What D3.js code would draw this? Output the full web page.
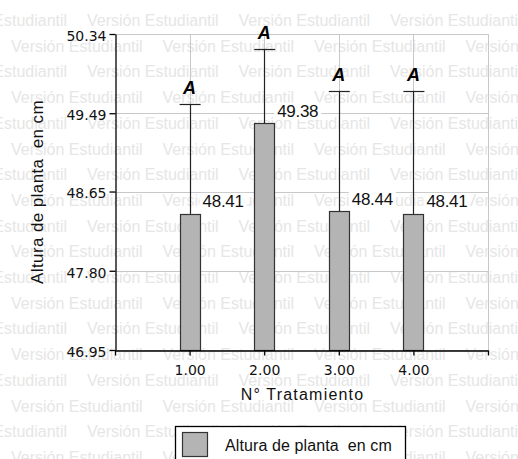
<!DOCTYPE html>
<html lang="es">

<head>
  <meta charset="UTF-8">
  <title>Altura de planta</title>
  <script src="https://cdn.jsdelivr.net/npm/d3@7"></script>
  <style>
    body { margin: 0; background: #fff; }
    text { white-space: pre; }
  </style>
</head>

<body>
  <svg width="518" height="459"></svg>
  <script>
    // datos
    let tratamientos = [1, 2, 3, 4];
    let alturas = [48.41, 49.38, 48.44, 48.41];
    let limSup = [49.59, 50.18, 49.73, 49.73];
    let letras = ['A', 'A', 'A', 'A'];
    let yTicks = [46.95, 47.80, 48.65, 49.49, 50.34];
    let xTicks = [1, 2, 3, 4];

    let dataset = tratamientos.map((t, i) => ({ t: t, v: alturas[i], sup: limSup[i], letra: letras[i] }));

    let width = 518, height = 459;
    let pLeft = 115, pRight = 488, pTop = 34, pBottom = 350;
    let gris = '#b4b4b4';

    let svg = d3.select('svg');

    // marca de agua
    let wm = svg.append('g')
      .attr('font-family', 'Liberation Sans, Arial, sans-serif')
      .attr('font-size', 16)
      .attr('fill', '#e6e6e6');
    let paso = 151.5;
    for (let r = 0; r < 19; r++) {
      let y = 0.3 + r * 25.7;
      let x0 = (r % 2 === 0) ? 11 : 87;
      for (let x = x0 - paso; x < width; x += paso) {
        wm.append('text').attr('x', x).attr('y', y).text('Versión Estudiantil');
      }
    }

    let xScale = d3.scaleLinear().domain([0, 5]).range([pLeft, pRight]);
    let yScale = d3.scaleLinear().domain([46.95, 50.34]).range([pBottom, pTop]);

    // rejilla
    let grid = svg.append('g').attr('stroke', '#c8c8c8').attr('stroke-width', 1);
    grid.selectAll('.h').data(yTicks).enter().append('line')
      .attr('x1', pLeft).attr('x2', pRight)
      .attr('y1', d => Math.round(yScale(d)) + 0.5).attr('y2', d => Math.round(yScale(d)) + 0.5);
    grid.selectAll('.v').data(xTicks).enter().append('line')
      .attr('y1', pTop).attr('y2', pBottom)
      .attr('x1', d => Math.round(xScale(d)) + 0.5).attr('x2', d => Math.round(xScale(d)) + 0.5);
    grid.append('line')
      .attr('x1', pRight + 0.5).attr('x2', pRight + 0.5).attr('y1', pTop).attr('y2', pBottom);

    // barras
    let barW = 20;
    svg.selectAll('rect.bar')
      .data(dataset)
      .enter()
      .append('rect')
      .attr('class', 'bar')
      .attr('x', d => Math.round(xScale(d.t) - barW / 2) + 0.5)
      .attr('y', d => Math.round(yScale(d.v)) + 0.5)
      .attr('width', barW)
      .attr('height', d => Math.round(pBottom - yScale(d.v)))
      .attr('fill', gris)
      .attr('stroke', '#333')
      .attr('stroke-width', 1.2);

    // barras de error (solo hacia arriba)
    let err = svg.append('g').attr('stroke', '#222').attr('stroke-width', 1.2);
    err.selectAll('.ev').data(dataset).enter().append('line')
      .attr('x1', d => Math.round(xScale(d.t)) + 0.5).attr('x2', d => Math.round(xScale(d.t)) + 0.5)
      .attr('y1', d => yScale(d.v)).attr('y2', d => yScale(d.sup));
    err.selectAll('.ec').data(dataset).enter().append('line')
      .attr('x1', d => xScale(d.t) - 10).attr('x2', d => xScale(d.t) + 11)
      .attr('y1', d => Math.round(yScale(d.sup)) + 0.5).attr('y2', d => Math.round(yScale(d.sup)) + 0.5);

    // letras de significancia
    svg.selectAll('text.letra')
      .data(dataset)
      .enter()
      .append('text')
      .attr('class', 'letra')
      .attr('x', d => xScale(d.t))
      .attr('y', d => yScale(d.sup) - 10)
      .attr('text-anchor', 'middle')
      .attr('font-family', 'Liberation Sans, Arial, sans-serif')
      .attr('font-size', 18)
      .attr('font-weight', 'bold')
      .attr('font-style', 'italic')
      .text(d => d.letra);

    // etiquetas de valor con fondo blanco
    let etq = svg.selectAll('g.etq')
      .data(dataset)
      .enter()
      .append('g')
      .attr('class', 'etq');
    etq.append('rect')
      .attr('x', d => xScale(d.t) + 10)
      .attr('y', d => yScale(d.v) - 21)
      .attr('width', 47)
      .attr('height', 17)
      .attr('fill', '#fff');
    etq.append('text')
      .attr('x', d => xScale(d.t) + 13)
      .attr('y', d => yScale(d.v) - 6.5)
      .attr('font-family', 'Liberation Sans, Arial, sans-serif')
      .attr('font-size', 17)
      .attr('letter-spacing', -0.3)
      .attr('fill', '#111')
      .text(d => d.v.toFixed(2));

    // ejes
    let yAxis = svg.append('g')
      .attr('transform', 'translate(' + (pLeft + 0.5) + ',0)')
      .call(d3.axisLeft(yScale).tickValues(yTicks).tickFormat(d3.format('.2f')).tickSize(6).tickSizeOuter(0));
    let xAxis = svg.append('g')
      .attr('transform', 'translate(0,' + (pBottom + 0.5) + ')')
      .call(d3.axisBottom(xScale).tickValues(xTicks).tickFormat(d3.format('.2f')).tickSize(5).tickSizeOuter(5).tickPadding(10));
    [yAxis, xAxis].forEach(a => {
      a.selectAll('path, line').attr('stroke', '#000').attr('stroke-width', 1.3);
      a.selectAll('text')
        .attr('font-family', 'DejaVu Sans, sans-serif')
        .attr('font-size', 14)
        .attr('fill', '#111');
    });
    yAxis.selectAll('text').attr('dy', '0.45em');

    // titulos
    svg.append('text')
      .attr('x', (pLeft + pRight) / 2 + 1)
      .attr('y', 400)
      .attr('text-anchor', 'middle')
      .attr('font-family', 'Liberation Sans, Arial, sans-serif')
      .attr('font-size', 16)
      .attr('letter-spacing', 1.2)
      .attr('fill', '#111')
      .text('N° Tratamiento');

    svg.append('text')
      .attr('transform', 'translate(43,' + ((pTop + pBottom) / 2) + ') rotate(-90)')
      .attr('text-anchor', 'middle')
      .attr('font-family', 'Liberation Sans, Arial, sans-serif')
      .attr('font-size', 17)
      .attr('letter-spacing', 0.4)
      .attr('fill', '#111')
      .text('Altura de planta  en cm');

    // leyenda
    let leg = svg.append('g');
    leg.append('rect')
      .attr('x', 175.5).attr('y', 426.5)
      .attr('width', 230).attr('height', 50)
      .attr('fill', '#fff').attr('stroke', '#000').attr('stroke-width', 1.3);
    leg.append('rect')
      .attr('x', 182.5).attr('y', 432.5)
      .attr('width', 25).attr('height', 24)
      .attr('fill', gris).attr('stroke', '#333').attr('stroke-width', 1.2);
    leg.append('text')
      .attr('x', 225).attr('y', 451)
      .attr('font-family', 'Liberation Sans, Arial, sans-serif')
      .attr('font-size', 16)
      .attr('letter-spacing', 0.1)
      .attr('fill', '#111')
      .text('Altura de planta  en cm');
  </script>
</body>

</html>
